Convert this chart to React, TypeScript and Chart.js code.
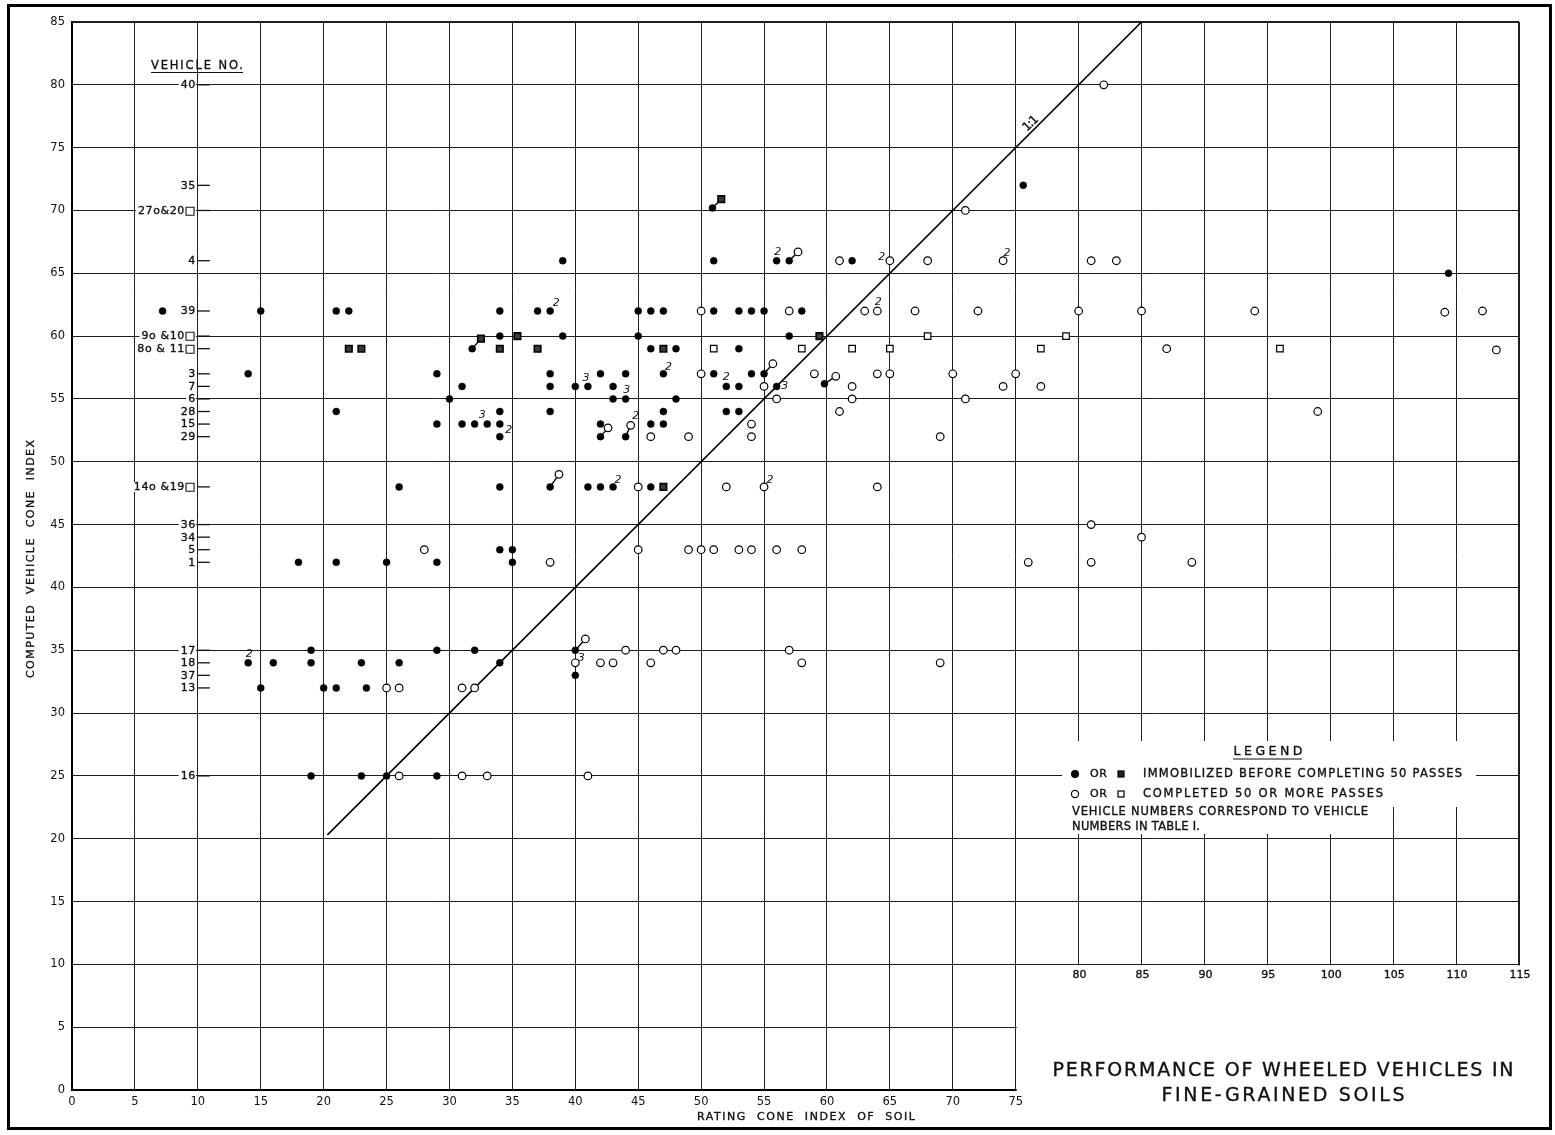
import { useEffect, useRef } from 'react';
import { Chart, registerables } from 'chart.js';

Chart.register(...registerables);

type Pt = [number, number];

// Rating cone index of soil (x) vs computed vehicle cone index (y)
const immobilizedCircles: Pt[] = [
  [75.6, 72],
  [50.9, 70.2],
  [39, 66], [51, 66], [56, 66], [57, 66], [62, 66],
  [109.4, 65],
  [7.2, 62], [15, 62], [21, 62], [22, 62], [34, 62], [37, 62], [38, 62], [45, 62], [46, 62], [47, 62], [51, 62], [53, 62], [54, 62], [55, 62], [58, 62],
  [34, 60], [39, 60], [45, 60], [57, 60],
  [31.8, 59], [46, 59], [48, 59], [53, 59],
  [14, 57], [29, 57], [38, 57], [42, 57], [44, 57], [47, 57], [51, 57], [54, 57], [55, 57],
  [31, 56], [38, 56], [40, 56], [41, 56], [43, 56], [52, 56], [53, 56], [56, 56], [59.8, 56.2],
  [30, 55], [43, 55], [44, 55], [48, 55],
  [21, 54], [34, 54], [38, 54], [47, 54], [52, 54], [53, 54],
  [29, 53], [31, 53], [32, 53], [33, 53], [34, 53], [42, 53], [46, 53], [47, 53],
  [34, 52], [42, 52], [44, 52],
  [26, 48], [34, 48], [38, 48], [41, 48], [42, 48], [43, 48], [46, 48],
  [34, 43], [35, 43],
  [18, 42], [21, 42], [25, 42], [29, 42], [35, 42],
  [19, 35], [29, 35], [32, 35], [40, 35],
  [14, 34], [16, 34], [19, 34], [23, 34], [26, 34], [34, 34],
  [40, 33],
  [15, 32], [20, 32], [21, 32], [23.4, 32],
  [19, 25], [23, 25], [25, 25], [29, 25],
];

const immobilizedSquares: Pt[] = [
  [51.6, 70.9], [35.4, 60], [59.4, 60], [32.5, 59.8],
  [22, 59], [23, 59], [34, 59], [37, 59], [47, 59], [47, 48],
];

const completedCircles: Pt[] = [
  [82, 80],
  [71, 70],
  [57.7, 66.7],
  [61, 66], [65, 66], [68, 66], [74, 66], [81, 66], [83, 66],
  [50, 62], [57, 62], [63, 62], [64, 62], [67, 62], [72, 62], [80, 62], [85, 62], [94, 62], [109.1, 61.9], [112.1, 62],
  [87, 59], [113.2, 58.9],
  [55.7, 57.8],
  [50, 57], [59, 57], [64, 57], [65, 57], [70, 57], [75, 57],
  [60.7, 56.8],
  [55, 56], [62, 56], [74, 56], [77, 56],
  [56, 55], [62, 55], [71, 55],
  [61, 54], [99, 54],
  [54, 53],
  [42.6, 52.7], [44.4, 52.9],
  [46, 52], [49, 52], [54, 52], [69, 52],
  [38.7, 49],
  [45, 48], [52, 48], [55, 48], [64, 48],
  [81, 45],
  [85, 44],
  [28, 43], [45, 43], [49, 43], [50, 43], [51, 43], [53, 43], [54, 43], [56, 43], [58, 43],
  [38, 42], [76, 42], [81, 42], [89, 42],
  [40.8, 35.9],
  [44, 35], [47, 35], [48, 35], [57, 35],
  [40, 34], [42, 34], [43, 34], [46, 34], [58, 34], [69, 34],
  [25, 32], [26, 32], [31, 32], [32, 32],
  [26, 25], [31, 25], [33, 25], [41, 25],
];

const completedSquares: Pt[] = [
  [68, 60], [79, 60],
  [51, 59], [58, 59], [62, 59], [65, 59], [77, 59], [96, 59],
];

// short leaders joining coincident results that are drawn side by side
const leaders: [Pt, Pt][] = [
  [[31.8, 59], [32.5, 59.8]],
  [[50.9, 70.2], [51.6, 70.9]],
  [[57, 66], [57.7, 66.7]],
  [[55, 57], [55.7, 57.8]],
  [[59.8, 56.2], [60.7, 56.8]],
  [[42, 52], [42.6, 52.7]],
  [[44, 52], [44.4, 52.9]],
  [[38, 48], [38.7, 49]],
  [[40, 35], [40.8, 35.9]],
];

const oneToOne: Pt[] = [[20.3, 20.3], [85, 85]];

// vehicle numbers keyed to their computed cone index
const vehicleNumbers: [string, number][] = [
  ['40', 80], ['35', 72], ['27o&20\u25A1', 70], ['4', 66], ['39', 62],
  ['9o &10\u25A1', 60], ['8o & 11\u25A1', 59], ['3', 57], ['7', 56], ['6', 55],
  ['28', 54], ['15', 53], ['29', 52], ['14o &19\u25A1', 48],
  ['36', 45], ['34', 44], ['5', 43], ['1', 42],
  ['17', 35], ['18', 34], ['37', 33], ['13', 32], ['16', 25],
];

const upperXTicks = [80, 85, 90, 95, 100, 105, 110, 115];

// number of tests plotted at the same point
const pointNotes: [string, number, number][] = [
  ['2', 14, 34], ['2', 38, 62], ['3', 33, 53], ['2', 34, 53], ['3', 41, 56],
  ['3', 44, 55], ['2', 47, 57], ['2', 43, 48], ['2', 44.4, 52.9], ['2', 52, 56],
  ['3', 56, 56], ['2', 56, 66], ['2', 65, 66], ['2', 64, 62], ['2', 74, 66],
  ['2', 55, 48], ['3', 40, 34],
];
const noteOffsets: Pt[] = [
  [1, -9], [6, -8], [-5, -9], [9, 6], [-2, -8],
  [1, -9], [5, -7], [5, -7], [5, -9], [0, -9],
  [8, 0], [1, -9], [-8, -4], [1, -9], [4, -8],
  [6, -7], [6, -5],
];

const FONT = '"DejaVu Sans", "Liberation Sans", sans-serif';
const INK = '#111';

const toXY = (pts: Pt[]) => pts.map(([x, y]) => ({ x, y }));

function drawFitted(
  ctx: CanvasRenderingContext2D,
  str: string,
  x: number,
  y: number,
  size: number,
  width: number,
  align: 'left' | 'center' | 'right' = 'left',
  style = '',
) {
  ctx.save();
  ctx.font = `${style} ${size}px ${FONT}`;
  (ctx as any).letterSpacing = '0px';
  const natural = ctx.measureText(str).width;
  const gaps = Math.max(1, [...str].length - 1);
  const sp = width > 0 ? (width - natural) / gaps : 0;
  (ctx as any).letterSpacing = `${sp}px`;
  const total = natural + sp * gaps;
  let left = x;
  if (align === 'center') left = x - total / 2;
  else if (align === 'right') left = x - total;
  ctx.fillStyle = INK;
  ctx.strokeStyle = INK;
  ctx.lineWidth = 0.35;
  ctx.textBaseline = 'middle';
  ctx.textAlign = 'left';
  ctx.fillText(str, left, y);
  ctx.strokeText(str, left, y);
  ctx.restore();
  return total;
}

function dot(ctx: CanvasRenderingContext2D, x: number, y: number, filled: boolean) {
  ctx.beginPath();
  ctx.arc(x, y, filled ? 3.4 : 3.6, 0, Math.PI * 2);
  ctx.fillStyle = filled ? '#000' : '#fff';
  ctx.fill();
  ctx.lineWidth = 1.2;
  ctx.strokeStyle = '#000';
  ctx.stroke();
}

function square(ctx: CanvasRenderingContext2D, x: number, y: number, filled: boolean) {
  ctx.fillStyle = filled ? '#222' : '#fff';
  ctx.fillRect(x - 3, y - 3, 6, 6);
  ctx.lineWidth = 1.2;
  ctx.strokeStyle = '#000';
  ctx.strokeRect(x - 3, y - 3, 6, 6);
}

const chartDecor = {
  id: 'chartDecor',
  beforeDatasetsDraw(chart: any) {
    const { ctx } = chart;
    const xs = chart.scales.x;
    const ys = chart.scales.y;
    const x75 = xs.getPixelForValue(75);
    const x115 = xs.getPixelForValue(115);
    const y10 = ys.getPixelForValue(10);
    const y0 = ys.getPixelForValue(0);

    ctx.save();
    ctx.fillStyle = '#fff';
    // the title block sits in the open corner below 10 and right of 75
    ctx.fillRect(x75 + 1, y10 + 1, x115 - x75 + 6, y0 - y10 + 1.5);
    // legend panel
    ctx.fillRect(1062, 741, 414, 66);
    ctx.fillRect(1062, 741, 318, 93);
    ctx.restore();

    // x labels of the upper scale, carried on the 10 line
    ctx.save();
    ctx.font = `11px ${FONT}`;
    ctx.fillStyle = INK;
    ctx.strokeStyle = INK;
    ctx.lineWidth = 0.35;
    ctx.textAlign = 'center';
    ctx.textBaseline = 'middle';
    for (const v of upperXTicks) {
      ctx.fillText(String(v), xs.getPixelForValue(v) + 1, y10 + 11);
      ctx.strokeText(String(v), xs.getPixelForValue(v) + 1, y10 + 11);
    }
    ctx.restore();

    // vehicle number scale
    const x10 = xs.getPixelForValue(10);
    ctx.save();
    ctx.font = `11px ${FONT}`;
    (ctx as any).letterSpacing = '0.6px';
    ctx.textBaseline = 'middle';
    ctx.textAlign = 'right';
    for (const [label, v] of vehicleNumbers) {
      const py = ys.getPixelForValue(v);
      const w = ctx.measureText(label).width;
      ctx.fillStyle = '#fff';
      ctx.fillRect(x10 - 3 - w - 1, py - 5, w + 2, 10);
      ctx.fillStyle = INK;
      ctx.strokeStyle = INK;
      ctx.lineWidth = 0.35;
      ctx.fillText(label, x10 - 2, py + 0.5);
      ctx.strokeText(label, x10 - 2, py + 0.5);
      ctx.beginPath();
      ctx.moveTo(x10, py);
      ctx.lineTo(x10 + 12, py);
      ctx.lineWidth = 1.3;
      ctx.stroke();
    }
    ctx.restore();

    drawFitted(ctx, 'VEHICLE NO.', 151, 66, 11.5, 92, 'left');
    ctx.save();
    ctx.beginPath();
    ctx.moveTo(151, 72.5);
    ctx.lineTo(243, 72.5);
    ctx.lineWidth = 1.2;
    ctx.strokeStyle = INK;
    ctx.stroke();
    ctx.restore();
  },
  afterDatasetsDraw(chart: any) {
    const { ctx } = chart;
    const xs = chart.scales.x;
    const ys = chart.scales.y;

    ctx.save();
    ctx.font = `italic 11px ${FONT}`;
    ctx.fillStyle = INK;
    ctx.textAlign = 'center';
    ctx.textBaseline = 'middle';
    pointNotes.forEach(([t, x, y], i) => {
      const [dx, dy] = noteOffsets[i];
      ctx.fillText(t, xs.getPixelForValue(x) + dx, ys.getPixelForValue(y) + dy);
    });
    ctx.restore();

    // 1:1 label along the diagonal
    ctx.save();
    const lx = xs.getPixelForValue(76.6);
    const ly = ys.getPixelForValue(76.6);
    ctx.translate(lx - 5, ly - 4);
    ctx.rotate(-Math.PI / 4);
    drawFitted(ctx, '1:1', 0, 0, 12, 17, 'center');
    ctx.restore();

    // axis titles
    ctx.save();
    ctx.translate(31, 559);
    ctx.rotate(-Math.PI / 2);
    drawFitted(ctx, 'COMPUTED  VEHICLE  CONE  INDEX', 0, 0, 11, 238, 'center');
    ctx.restore();
    drawFitted(ctx, 'RATING  CONE  INDEX  OF  SOIL', 806, 1117, 11, 218, 'center');

    // legend
    drawFitted(ctx, 'LEGEND', 1268, 752, 12.5, 69, 'center');
    ctx.save();
    ctx.beginPath();
    ctx.moveTo(1233, 759);
    ctx.lineTo(1302, 759);
    ctx.lineWidth = 1.2;
    ctx.strokeStyle = INK;
    ctx.stroke();
    dot(ctx, 1075, 774, true);
    square(ctx, 1121, 774, true);
    dot(ctx, 1075, 794, false);
    square(ctx, 1121, 794, false);
    ctx.restore();
    drawFitted(ctx, 'OR', 1090, 774, 11, 17, 'left');
    drawFitted(ctx, 'OR', 1090, 794, 11, 17, 'left');
    drawFitted(ctx, 'IMMOBILIZED BEFORE COMPLETING 50 PASSES', 1143, 774, 11.5, 319, 'left');
    drawFitted(ctx, 'COMPLETED 50 OR MORE PASSES', 1143, 794, 11.5, 240, 'left');
    drawFitted(ctx, 'VEHICLE NUMBERS CORRESPOND TO VEHICLE', 1072, 812, 11.5, 296, 'left');
    drawFitted(ctx, 'NUMBERS IN TABLE I.', 1072, 827, 11.5, 128, 'left');

    // title block
    drawFitted(ctx, 'PERFORMANCE OF WHEELED VEHICLES IN', 1283, 1071, 19, 461, 'center');
    drawFitted(ctx, 'FINE-GRAINED SOILS', 1283, 1096, 19, 243, 'center');

    // sheet frame
    ctx.save();
    ctx.lineWidth = 3;
    ctx.strokeStyle = '#000';
    ctx.strokeRect(8.5, 5.5, 1542, 1123);
    ctx.restore();
  },
};

export default function App() {
  const canvasRef = useRef<HTMLCanvasElement | null>(null);

  useEffect(() => {
    const canvas = canvasRef.current;
    if (!canvas) return;

    const leaderData: any[] = [];
    for (const [a, b] of leaders) {
      leaderData.push({ x: a[0], y: a[1] }, { x: b[0], y: b[1] }, { x: b[0], y: null });
    }

    const gridColor = '#1e1e1e';
    const tickFont = { family: FONT, size: 11.5 };

    const chart = new Chart(canvas, {
      type: 'scatter',
      data: {
        datasets: [
          {
            label: 'Immobilized',
            data: toXY(immobilizedCircles),
            pointStyle: 'circle',
            pointRadius: 3.5,
            backgroundColor: '#000',
            borderColor: '#000',
            borderWidth: 0.5,
            order: 0,
          },
          {
            label: 'Immobilized (square)',
            data: toXY(immobilizedSquares),
            pointStyle: 'rect',
            pointRadius: 4.6,
            backgroundColor: '#3a3a3a',
            borderColor: '#000',
            borderWidth: 1.6,
            order: 0,
          },
          {
            label: 'Completed',
            data: toXY(completedCircles),
            pointStyle: 'circle',
            pointRadius: 3.8,
            backgroundColor: '#fff',
            borderColor: '#000',
            borderWidth: 1.2,
            order: 0,
          },
          {
            label: 'Completed (square)',
            data: toXY(completedSquares),
            pointStyle: 'rect',
            pointRadius: 4.6,
            backgroundColor: '#fff',
            borderColor: '#000',
            borderWidth: 1.2,
            order: 0,
          },
          {
            label: '1:1',
            type: 'line',
            data: toXY(oneToOne),
            showLine: true,
            borderColor: '#000',
            borderWidth: 1.6,
            pointRadius: 0,
            fill: false,
            order: 2,
          } as any,
          {
            label: 'leaders',
            type: 'line',
            data: leaderData,
            showLine: true,
            spanGaps: false,
            borderColor: '#000',
            borderWidth: 1.4,
            pointRadius: 0,
            fill: false,
            order: 1,
          } as any,
        ],
      },
      options: {
        responsive: false,
        animation: false,
        devicePixelRatio: 1,
        events: [],
        layout: { padding: { top: 22, right: 36, left: 0, bottom: 0 } },
        plugins: { legend: { display: false }, tooltip: { enabled: false } },
        scales: {
          x: {
            type: 'linear',
            min: 0,
            max: 115,
            afterFit: (s: any) => {
              s.height = 45;
            },
            ticks: {
              stepSize: 5,
              padding: 5,
              color: INK,
              font: tickFont,
              autoSkip: false,
              maxRotation: 0,
              callback: (v: any) => (Number(v) <= 75 ? String(v) : ''),
            },
            grid: {
              color: gridColor,
              drawTicks: false,
              lineWidth: (c: any) => (c.tick && c.tick.value === 115 ? 2 : 1),
            },
            border: { color: '#000', width: 2 },
          },
          y: {
            type: 'linear',
            min: 0,
            max: 85,
            afterFit: (s: any) => {
              s.width = 72;
            },
            ticks: {
              stepSize: 5,
              padding: 7,
              color: INK,
              font: tickFont,
              autoSkip: false,
            },
            grid: {
              color: gridColor,
              drawTicks: false,
              lineWidth: (c: any) => (c.tick && c.tick.value === 85 ? 2 : 1),
            },
            border: { color: '#000', width: 2 },
          },
        },
      },
      plugins: [chartDecor],
    });

    return () => chart.destroy();
  }, []);

  return (
    <div style={{ position: 'absolute', left: 0, top: 0, width: 1555, height: 1135, background: '#fff' }}>
      <canvas ref={canvasRef} width={1555} height={1135} style={{ width: 1555, height: 1135, display: 'block' }} />
    </div>
  );
}
